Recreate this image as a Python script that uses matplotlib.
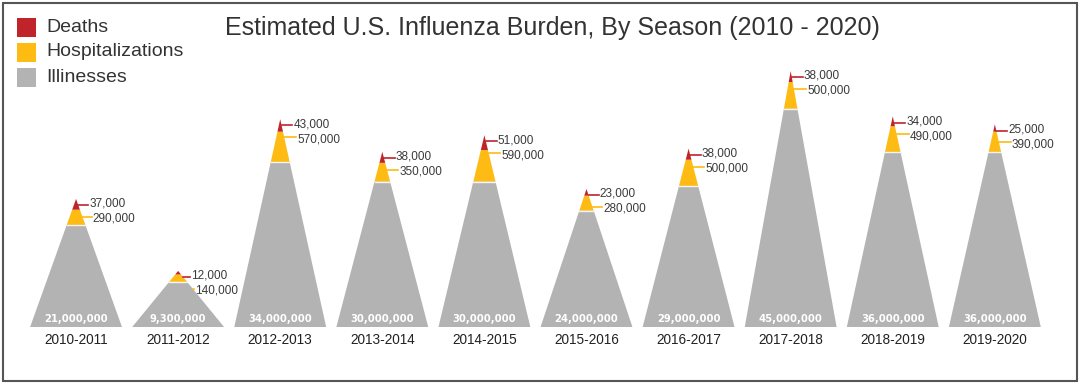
import matplotlib.pyplot as plt
from matplotlib.patches import Polygon, Rectangle

# data
seasons = ['2010-2011', '2011-2012', '2012-2013', '2013-2014', '2014-2015',
           '2015-2016', '2016-2017', '2017-2018', '2018-2019', '2019-2020']
illnesses = [21.0, 9.3, 34.0, 30.0, 30.0, 24.0, 29.0, 45.0, 36.0, 36.0]  # millions
illness_labels = ['21,000,000', '9,300,000', '34,000,000', '30,000,000', '30,000,000',
                  '24,000,000', '29,000,000', '45,000,000', '36,000,000', '36,000,000']
hospitalizations = [290000, 140000, 570000, 350000, 590000, 280000, 500000, 500000, 490000, 390000]
deaths = [37000, 12000, 43000, 38000, 51000, 23000, 38000, 38000, 34000, 25000]

red = '#C1232B'
yellow = '#FDBB13'
gray = '#B3B3B3'
txt = '#3a3a3a'

# hospitalizations / deaths are exaggerated so they show on the peak
HOSP_SCALE = 11
DEATH_SCALE = 60
half_w = 0.45

plt.rcParams['font.family'] = ['Liberation Sans', 'DejaVu Sans']

fig = plt.figure(figsize=(10.8, 3.84), dpi=100)
ax = fig.add_axes([25/1080, 57/384, 1026/1080, 297/384])
ax.set_xlim(-0.5, 9.55)
ax.set_ylim(0, 297/4.85)
ax.axis('off')

for i in range(len(seasons)):
    x = i
    g = illnesses[i]
    h = hospitalizations[i] / 1e6 * HOSP_SCALE
    d = deaths[i] / 1e6 * DEATH_SCALE
    H = g + h + d

    def w(y):
        return half_w * (1 - y / H)

    ax.add_patch(Polygon([(x - half_w, 0), (x + half_w, 0), (x + w(g), g), (x - w(g), g)],
                         closed=True, facecolor=gray, edgecolor='none'))
    ax.add_patch(Polygon([(x - w(g), g), (x + w(g), g), (x + w(g + h), g + h), (x - w(g + h), g + h)],
                         closed=True, facecolor=yellow, edgecolor='none'))
    ax.add_patch(Polygon([(x - w(g + h), g + h), (x + w(g + h), g + h), (x, H)],
                         closed=True, facecolor=red, edgecolor='none'))
    # thin light separator between illnesses and hospitalizations
    ax.plot([x - w(g), x + w(g)], [g, g], color='#f4f4f4', lw=1)

    # value labels on the right of the peak
    dy = H - 1.0
    hy = dy - 3.1
    ly = dy - 0.3
    ax.plot([x + w(ly), x + 0.12], [ly, ly], color=red, lw=1.2)
    ax.text(x + 0.13, dy, f'{deaths[i]:,}', fontsize=8.5, color=txt, va='center', ha='left')
    ly2 = hy + 0.4
    ax.plot([x + max(w(ly2), 0.02), x + 0.155], [ly2, ly2], color=yellow, lw=1.2)
    ax.text(x + 0.165, hy, f'{hospitalizations[i]:,}', fontsize=8.5, color=txt, va='center', ha='left')

    ax.text(x, 1.6, illness_labels[i], fontsize=8, color='white', fontweight='bold',
            fontstretch='condensed', family='DejaVu Sans', ha='center', va='center')
    ax.text(x, -2.7, seasons[i], fontsize=9.8, color='#222222', ha='center', va='center')

# title
fig.text(552/1080, 1 - 28/384, 'Estimated U.S. Influenza Burden, By Season (2010 - 2020)',
         fontsize=18, color='#333333', ha='center', va='center')

# legend
legend_items = [('Deaths', red), ('Hospitalizations', yellow), ('Illinesses', gray)]
for k, (name, col) in enumerate(legend_items):
    cy = 27 + 25 * k
    fig.add_artist(Rectangle((17/1080, 1 - (cy + 10)/384), 19/1080, 19/384,
                             transform=fig.transFigure, facecolor=col, edgecolor='none'))
    fig.text(46/1080, 1 - cy/384, name, fontsize=14, color='#333333', ha='left', va='center')

# frame
fig.add_artist(Rectangle((3/1080, 3/384), 1074/1080, 378/384, transform=fig.transFigure,
                         fill=False, edgecolor='#555555', lw=1.5))

fig.savefig('out.png', dpi=100)
